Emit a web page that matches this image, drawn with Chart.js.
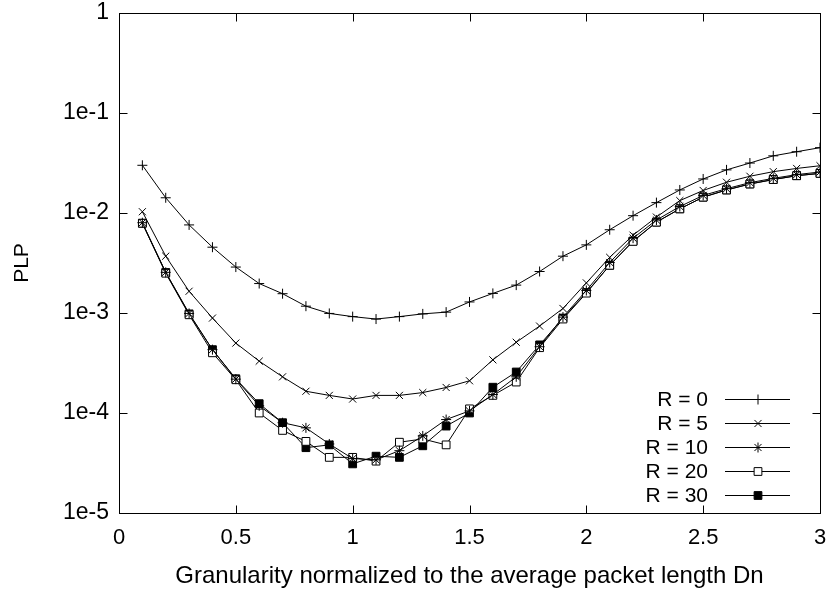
<!DOCTYPE html>
<html>
<head>
<meta charset="utf-8">
<script src="https://cdn.jsdelivr.net/npm/chart.js@4/dist/chart.umd.min.js"></script>
<style>
  html, body { margin: 0; background: #fff; }
</style>
</head>
<body>
<canvas id="plp" width="829" height="593"></canvas>
<script>
// granularity (normalized to Dn)
const granularity = [0.1, 0.2, 0.3, 0.4, 0.5, 0.6, 0.7, 0.8, 0.9, 1.0,
  1.1, 1.2, 1.3, 1.4, 1.5, 1.6, 1.7, 1.8, 1.9, 2.0,
  2.1, 2.2, 2.3, 2.4, 2.5, 2.6, 2.7, 2.8, 2.9, 3.0];

const plpR0 = [0.030, 0.0142, 0.0076, 0.00455, 0.00288, 0.00197, 0.00156, 0.00117, 0.00099, 0.00092,
  0.00087, 0.00092, 0.00098, 0.00102, 0.00129, 0.00157, 0.0019, 0.0026, 0.0037, 0.0048,
  0.0068, 0.0094, 0.0127, 0.017, 0.0219, 0.027, 0.0316, 0.0373, 0.041, 0.045];
const plpR5 = [0.0103, 0.0037, 0.00165, 0.00089, 0.0005, 0.00033, 0.00023, 0.000165, 0.00015, 0.000138,
  0.00015, 0.00015, 0.00016, 0.00018, 0.00021, 0.00034, 0.00051, 0.00074, 0.00111, 0.0020,
  0.0036, 0.006, 0.0091, 0.0133, 0.0168, 0.0203, 0.0233, 0.0259, 0.0279, 0.0297];
const plpR10 = [0.0080, 0.00255, 0.00099, 0.00043, 0.000218, 0.000118, 0.00008, 0.000071, 0.000049, 0.000035,
  0.000034, 0.000042, 0.000059, 0.000086, 0.000105, 0.000153, 0.00023, 0.00046, 0.00091, 0.00168,
  0.0032, 0.0056, 0.0085, 0.0116, 0.015, 0.0175, 0.0201, 0.0222, 0.0242, 0.0257];
const plpR20 = [0.0079, 0.0025, 0.00096, 0.0004, 0.000215, 0.0001, 0.000067, 0.000052, 0.000036, 0.000036,
  0.000033, 0.000051, 0.000055, 0.000048, 0.00011, 0.00015, 0.000204, 0.00045, 0.00087, 0.00158,
  0.003, 0.0052, 0.0081, 0.011, 0.0144, 0.017, 0.0195, 0.0216, 0.0236, 0.0249];
const plpR30 = [0.0079, 0.00254, 0.00098, 0.00043, 0.00022, 0.000124, 0.00008, 0.000045, 0.000048, 0.000031,
  0.000037, 0.000036, 0.000047, 0.000074, 0.0001, 0.000181, 0.000257, 0.00048, 0.00089, 0.0016,
  0.003, 0.00525, 0.0081, 0.011, 0.0144, 0.017, 0.0195, 0.0216, 0.0236, 0.0249];

const seriesNames = ['R = 0', 'R = 5', 'R = 10', 'R = 20', 'R = 30'];
const xTicks = [0, 0.5, 1, 1.5, 2, 2.5, 3];
const yTicks = [1e-5, 1e-4, 1e-3, 1e-2, 1e-1, 1];
const yTickLabels = ['1e-5', '1e-4', '1e-3', '1e-2', '1e-1', '1'];

const FONT = 'Liberation Sans, Arial, Helvetica, sans-serif';
const FSIZE = 21;

function pts(vals) {
  return vals.map((v, i) => ({ x: granularity[i], y: v }));
}

function series(label, vals, style, radius, fill) {
  return {
    label: label,
    data: pts(vals),
    borderColor: '#000',
    borderWidth: 1,
    pointStyle: style,
    pointRadius: radius,
    pointBorderWidth: 1,
    pointBorderColor: '#000',
    pointBackgroundColor: fill,
    tension: 0,
    fill: false
  };
}

const datasets = [
  series(seriesNames[0], plpR0, 'cross', 5, '#000'),
  series(seriesNames[1], plpR5, 'crossRot', 5, '#000'),
  series(seriesNames[2], plpR10, 'star', 5, '#000'),
  series(seriesNames[3], plpR20, 'rect', 5.5, '#fff'),
  series(seriesNames[4], plpR30, 'rect', 5.5, '#000')
];

// gnuplot-like frame with inward ticks, plus the key in the lower right
const framePlugin = {
  id: 'frame',
  afterDraw(chart) {
    const { ctx, chartArea: a, scales } = chart;
    const L = Math.round(a.left) + 0.5, R = Math.round(a.right) + 0.5;
    const T = Math.round(a.top) + 0.5, B = Math.round(a.bottom) + 0.5;
    ctx.save();
    ctx.strokeStyle = '#000';
    ctx.lineWidth = 1;
    ctx.strokeRect(L, T, R - L, B - T);
    const tl = 8;
    ctx.beginPath();
    xTicks.forEach(v => {
      const px = Math.round(scales.x.getPixelForValue(v)) + 0.5;
      ctx.moveTo(px, B); ctx.lineTo(px, B - tl);
      ctx.moveTo(px, T); ctx.lineTo(px, T + tl);
    });
    yTicks.forEach(v => {
      const py = Math.round(scales.y.getPixelForValue(v)) + 0.5;
      ctx.moveTo(L, py); ctx.lineTo(L + tl, py);
      ctx.moveTo(R, py); ctx.lineTo(R - tl, py);
    });
    ctx.stroke();

    // key
    ctx.font = FSIZE + 'px ' + FONT;
    ctx.textAlign = 'right';
    ctx.textBaseline = 'middle';
    chart.data.datasets.forEach((ds, i) => {
      const yy = 399.5 + i * 24;
      ctx.fillStyle = '#000';
      ctx.fillText(ds.label, 708, yy + 1);
      ctx.beginPath();
      ctx.moveTo(725, yy); ctx.lineTo(790, yy);
      ctx.stroke();
      ctx.fillStyle = ds.pointBackgroundColor;
      ctx.strokeStyle = '#000';
      Chart.helpers.drawPoint(ctx, {
        pointStyle: ds.pointStyle, radius: ds.pointRadius, rotation: 0, borderWidth: 1
      }, 758, yy);
    });
    ctx.restore();
  }
};

new Chart(document.getElementById('plp'), {
  type: 'line',
  data: { datasets: datasets },
  plugins: [framePlugin],
  options: {
    responsive: false,
    animation: false,
    layout: { padding: { left: 0, right: 9, top: 13, bottom: 0 } },
    plugins: { legend: { display: false }, tooltip: { enabled: false } },
    scales: {
      x: {
        type: 'linear',
        min: 0,
        max: 3,
        afterFit: s => { s.height = 80; s.paddingLeft = 0; s.paddingRight = 0; },
        afterBuildTicks: s => { s.ticks = xTicks.map(v => ({ value: v })); },
        grid: { display: false, drawTicks: false },
        border: { display: false },
        ticks: {
          padding: 12,
          color: '#000',
          font: { family: FONT, size: 22 },
          maxRotation: 0,
          callback: v => String(v)
        },
        title: {
          display: true,
          text: 'Granularity normalized to the average packet length Dn',
          color: '#000',
          font: { family: FONT, size: 24 },
          padding: { top: 0, bottom: 2 }
        }
      },
      y: {
        type: 'logarithmic',
        min: 1e-5,
        max: 1,
        afterFit: s => { s.width = 119; s.paddingTop = 0; s.paddingBottom = 0; },
        afterBuildTicks: s => { s.ticks = yTicks.map(v => ({ value: v })); },
        grid: { display: false, drawTicks: false },
        border: { display: false },
        ticks: {
          padding: 10,
          color: '#000',
          font: { family: FONT, size: 23 },
          callback: v => yTickLabels[yTicks.indexOf(v)] ?? ''
        },
        title: {
          display: true,
          text: 'PLP',
          color: '#000',
          font: { family: FONT, size: FSIZE },
          padding: { top: 10, bottom: 0 }
        }
      }
    }
  }
});
</script>
</body>
</html>
